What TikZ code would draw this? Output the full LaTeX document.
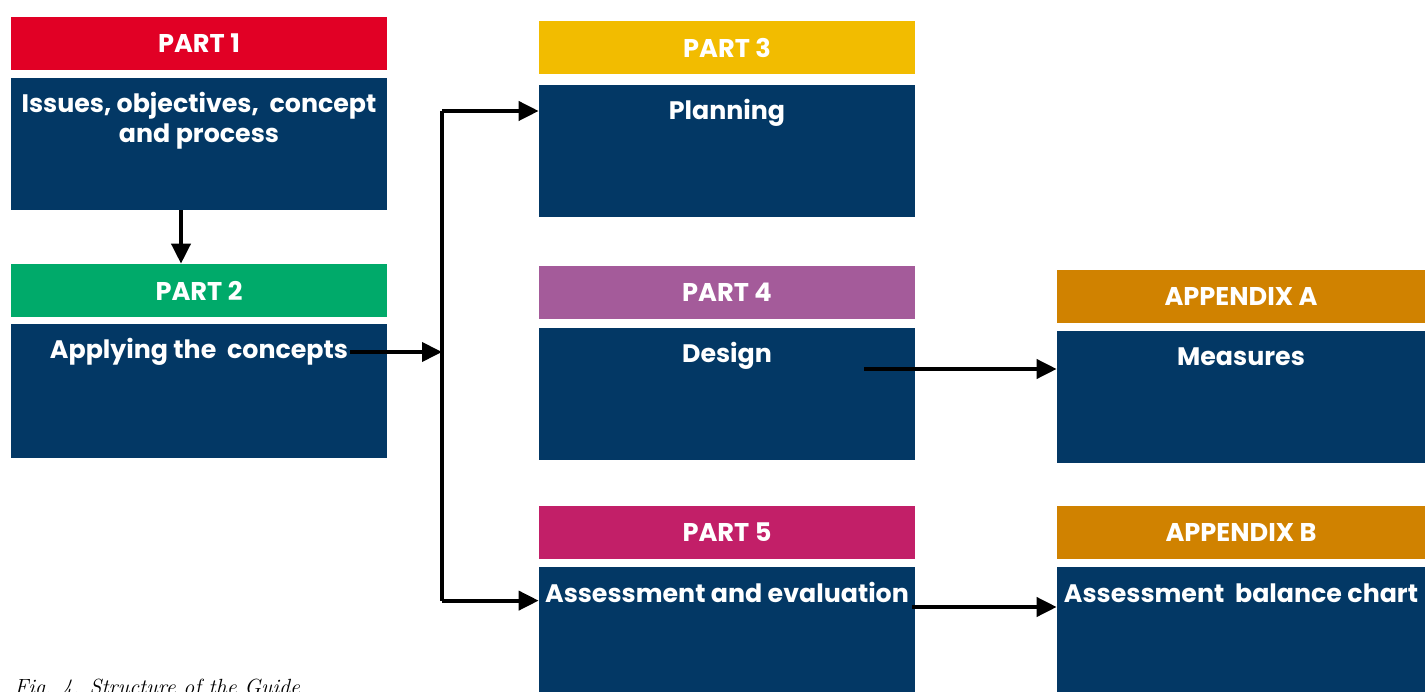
\documentclass[tikz,border=0pt]{standalone}
\usepackage{fontspec}
\usepackage{tikz}
\usetikzlibrary{arrows.meta}
\newfontfamily\boxfont{Poppins}
\definecolor{navyblue}{RGB}{3,56,101}
\definecolor{partred}{RGB}{225,0,37}
\definecolor{partgreen}{RGB}{0,170,106}
\definecolor{partyellow}{RGB}{242,188,0}
\definecolor{partpurple}{RGB}{164,91,154}
\definecolor{partmagenta}{RGB}{194,31,104}
\definecolor{apporange}{RGB}{208,130,0}

\begin{document}
\begin{tikzpicture}[
    header/.style={fill=#1, minimum width=7.52cm, minimum height=1.06cm,
        inner sep=0, text=white, font=\boxfont\bfseries\fontsize{14.6}{17}\selectfont},
    body/.style={fill=navyblue, minimum width=7.52cm, minimum height=2.64cm,
        inner sep=0},
    bodytext/.style={anchor=base, align=center, inner sep=1pt, text=white,
        font=\boxfont\bfseries\fontsize{14.4}{17}\selectfont},
    link/.style={line width=2.2pt, -{Triangle[length=0.4cm,width=0.38cm]}}
]
\useasboundingbox (0,0) rectangle (28.5,13.82);

% left column
\node[header=partred]   (h1) at (3.98, 12.95) {PART 1};
\node[body]             (b1) at (3.98, 10.94) {};
\node[bodytext] (t1) at ([yshift=-1.3cm]b1.north)
    {Issues, objectives,~ concept\\and process};
\node[header=partgreen] (h2) at (3.98, 8.01) {PART 2};
\node[body, minimum height=2.68cm] (b2) at (3.98, 6.0) {};
\node[bodytext] (t2) at ([yshift=-0.7cm]b2.north) {Applying the~ concepts};

% middle column
\node[header=partyellow]  (h3) at (14.54, 12.87) {PART 3};
\node[body]               (b3) at (14.54, 10.8) {};
\node[bodytext] (t3) at ([yshift=-0.7cm]b3.north) {Planning};
\node[header=partpurple]  (h4) at (14.54, 7.97) {PART 4};
\node[body]               (b4) at (14.54, 5.94) {};
\node[bodytext] (t4) at ([yshift=-0.7cm]b4.north) {Design};
\node[header=partmagenta] (h5) at (14.54, 3.17) {PART 5};
\node[body]               (b5) at (14.54, 1.16) {};
\node[bodytext] (t5) at ([yshift=-0.72cm]b5.north) {Assessment and evaluation};

% appendices
\node[header=apporange, minimum width=7.36cm] (hA) at (24.82, 7.89) {APPENDIX A};
\node[body, minimum width=7.36cm]             (bA) at (24.82, 5.88) {};
\node[bodytext] (tA) at ([yshift=-0.7cm]bA.north) {Measures};
\node[header=apporange, minimum width=7.36cm] (hB) at (24.82, 3.17) {APPENDIX B};
\node[body, minimum width=7.36cm]             (bB) at (24.82, 1.16) {};
\node[bodytext] (tB) at ([yshift=-0.72cm]bB.north) {Assessment~ balance chart};

% connectors
\coordinate (split) at (8.84, 6.8);
\coordinate (top) at ([yshift=0.04cm]split |- t3);
\coordinate (bot) at ([yshift=-0.16cm]split |- t5);
\coordinate (dsg) at (17.28, 6.44);
\coordinate (asm) at (18.24, 1.68);
\draw[link] ([xshift=-0.36cm]b1.south) -- ([xshift=-0.36cm]h2.north);
\draw[link] (t2.east) -- (t2.east -| split);
\draw[line width=2.2pt] (top) -- (bot);
\draw[link] (top) -- (top -| b3.west);
\draw[link] (bot) -- (bot -| b5.west);
\draw[link] (dsg) -- (dsg -| bA.west);
\draw[link] (asm) -- (asm -| bB.west);

% caption
\node[anchor=base west, inner sep=0, font=\itshape\fontsize{12.5}{14}\selectfont]
    (cap) at (0.28, -0.06) {Fig. 4. Structure of the Guide};
\end{tikzpicture}
\end{document}
